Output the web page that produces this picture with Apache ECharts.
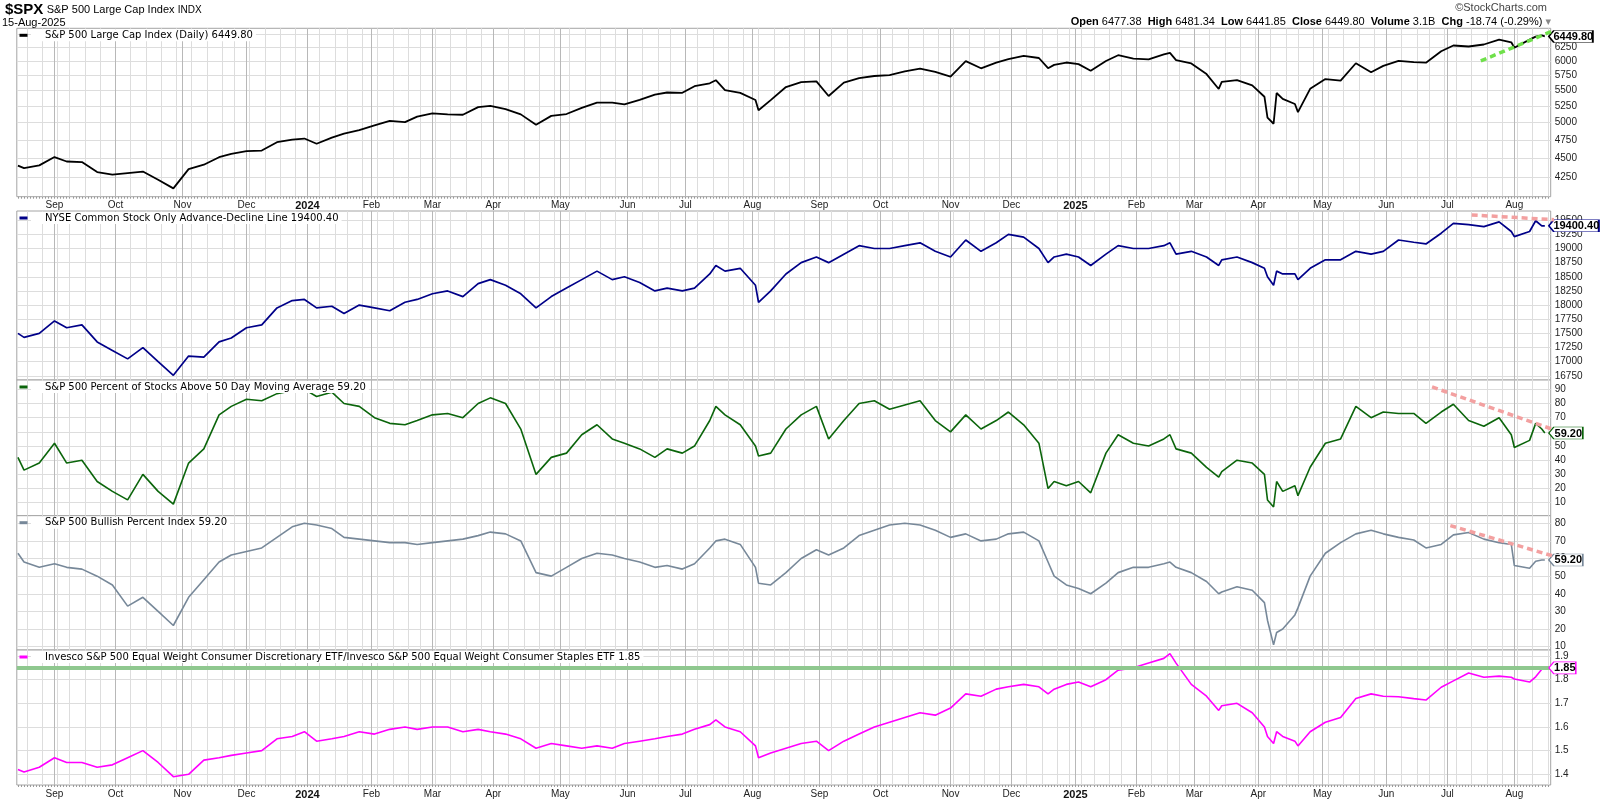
<!DOCTYPE html>
<html><head><meta charset="utf-8">
<script src="https://cdn.jsdelivr.net/npm/echarts@6/dist/echarts.min.js"></script>
<style>html,body{margin:0;padding:0;background:#fff}#c{width:1600px;height:800px}</style>
</head><body><div id="c"></div>
<script>
// ---------------- DATA ----------------
const sampleDates = [
 '2023-08-16','2023-08-18','2023-08-25',
 '2023-09-01','2023-09-08','2023-09-15','2023-09-22','2023-09-29',
 '2023-10-06','2023-10-13','2023-10-20','2023-10-27',
 '2023-11-03','2023-11-10','2023-11-17','2023-11-24',
 '2023-12-01','2023-12-08','2023-12-15','2023-12-22','2023-12-29',
 '2024-01-05','2024-01-12','2024-01-19','2024-01-26',
 '2024-02-02','2024-02-09','2024-02-16','2024-02-23',
 '2024-03-01','2024-03-08','2024-03-15','2024-03-22','2024-03-28',
 '2024-04-05','2024-04-12','2024-04-19','2024-04-26',
 '2024-05-03','2024-05-10','2024-05-17','2024-05-24','2024-05-31',
 '2024-06-07','2024-06-14','2024-06-21','2024-06-28',
 '2024-07-05','2024-07-12','2024-07-16','2024-07-19','2024-07-26',
 '2024-08-02','2024-08-05','2024-08-09','2024-08-16','2024-08-23','2024-08-30',
 '2024-09-06','2024-09-13','2024-09-20','2024-09-27',
 '2024-10-04','2024-10-11','2024-10-18','2024-10-25',
 '2024-11-01','2024-11-08','2024-11-15','2024-11-22','2024-11-29',
 '2024-12-06','2024-12-13','2024-12-18','2024-12-20','2024-12-27',
 '2025-01-03','2025-01-10','2025-01-17','2025-01-24','2025-01-31',
 '2025-02-07','2025-02-14','2025-02-19','2025-02-21','2025-02-28',
 '2025-03-07','2025-03-13','2025-03-14','2025-03-21','2025-03-28',
 '2025-04-03','2025-04-04','2025-04-08','2025-04-09','2025-04-11','2025-04-17','2025-04-21','2025-04-25',
 '2025-05-02','2025-05-09','2025-05-16','2025-05-23','2025-05-30',
 '2025-06-06','2025-06-13','2025-06-20','2025-06-27',
 '2025-07-03','2025-07-11','2025-07-18','2025-07-25','2025-07-31',
 '2025-08-01','2025-08-08','2025-08-12','2025-08-14','2025-08-15'
];
const spxClose = [
 4404,4370,4406,
 4516,4457,4450,4320,4288,
 4308,4327,4224,4117,
 4358,4415,4514,4559,
 4595,4604,4719,4755,4770,
 4697,4784,4840,4891,
 4959,5027,5006,5089,
 5137,5124,5117,5234,5254,
 5204,5123,4967,5100,
 5128,5223,5303,5305,5278,
 5347,5432,5465,5460,
 5567,5615,5667,5505,5459,
 5346,5186,5344,5554,5634,5648,
 5408,5626,5703,5738,
 5751,5815,5864,5808,
 5729,5995,5870,5969,6032,
 6090,6051,5872,5930,5971,
 5942,5827,5997,6101,6041,
 6026,6115,6144,6013,5955,
 5770,5522,5639,5668,5581,
 5397,5074,4983,5457,5363,5283,5158,5525,
 5686,5660,5958,5803,5912,
 6000,5977,5968,6173,
 6279,6260,6297,6389,6339,
 6238,6389,6446,6469,6449.80
];
const nyseAdLine = [
 17500,17430,17500,
 17720,17600,17650,17350,17200,
 17050,17250,17000,16760,
 17100,17080,17350,17420,
 17600,17650,17950,18080,18100,
 17950,17980,17850,18000,
 17950,17900,18050,18100,
 18200,18250,18150,18380,18450,
 18350,18200,17950,18150,
 18300,18450,18600,18450,18500,
 18400,18250,18300,18250,
 18300,18550,18700,18600,18650,
 18350,18050,18250,18550,18750,18850,
 18750,18900,19050,19000,
 19000,19050,19100,18950,
 18850,19150,18950,19100,19250,
 19200,19000,18750,18850,18900,
 18850,18700,18900,19050,19000,
 19000,19050,19100,18900,18950,
 18850,18700,18800,18850,18750,
 18650,18500,18350,18600,18550,18550,18450,18650,
 18800,18800,18950,18900,18950,
 19150,19110,19080,19270,
 19445,19420,19385,19470,19300,
 19210,19300,19490,19400,19400.40
];
const pctAbove50dma = [
 42,33,38,
 52,38,40,25,18,
 12,30,18,9,
 38,48,72,78,
 83,82,87,89,90,
 85,88,80,78,
 70,66,65,68,
 72,73,70,80,84,
 80,62,30,42,
 45,58,65,55,52,
 48,42,48,45,
 50,68,78,72,65,
 50,43,45,62,72,78,
 55,68,80,82,
 76,79,82,68,
 60,72,62,68,74,
 65,52,20,25,22,
 25,17,45,58,52,
 50,55,58,48,45,
 35,28,32,40,38,
 30,12,7,25,18,22,15,35,
 52,55,78,70,74,
 73,73,66,74,
 79.5,68,64,70,58,
 49,54,66,62,59.2
];
const bullishPctIndex = [
 63,58,55,
 57,55,54,50,45,
 33,38,30,22,
 38,48,58,62,
 64,66,72,78,80,
 79,77,72,71,
 70,69,69,68,
 69,70,71,73,75,
 74,70,52,50,
 55,60,63,62,60,
 58,55,56,54,
 57,66,70,71,68,
 55,46,45,52,60,65,
 62,66,73,76,
 79,80,79,76,
 72,74,70,71,74,
 75,70,58,50,45,
 43,40,46,52,55,
 55,57,58,55,52,
 47,40,41,44,42,
 35,25,11,18,20,28,32,50,
 63,69,74,76,74,
 72,70.5,66,68,
 73.4,74.8,71,69,68,
 56,54.5,58.5,59.2,59.2
];
const rspdRspsRatio = [
 1.42,1.41,1.43,
 1.47,1.45,1.45,1.43,1.44,
 1.47,1.50,1.45,1.39,
 1.40,1.46,1.47,1.48,
 1.49,1.50,1.55,1.56,1.58,
 1.54,1.55,1.56,1.58,
 1.57,1.59,1.60,1.59,
 1.60,1.60,1.58,1.59,1.58,
 1.57,1.55,1.51,1.53,
 1.52,1.51,1.52,1.51,1.53,
 1.54,1.55,1.56,1.57,
 1.59,1.61,1.63,1.60,1.58,
 1.52,1.47,1.49,1.51,1.53,1.54,
 1.50,1.54,1.57,1.60,
 1.62,1.64,1.66,1.65,
 1.68,1.74,1.73,1.76,1.77,
 1.78,1.77,1.74,1.76,1.78,
 1.79,1.77,1.80,1.84,1.85,
 1.87,1.89,1.91,1.87,1.78,
 1.73,1.67,1.69,1.70,1.66,
 1.60,1.56,1.53,1.58,1.56,1.54,1.52,1.58,
 1.62,1.64,1.72,1.74,1.73,
 1.728,1.72,1.714,1.768,
 1.795,1.828,1.81,1.815,1.81,
 1.803,1.79,1.812,1.844,1.85
];
// annotation lines drawn on the chart
const spxTrend = [['2025-07-17', 6000], ['2025-08-20', 6565]];
const adTrend = [['2025-07-14', 19592], ['2025-08-21', 19505]];
const pctTrend = [['2025-06-24', 91.7], ['2025-08-19', 62.2]];
const bpiTrend = [['2025-07-02', 78.7], ['2025-09-02', 57.2]];
const ratioLevel = 1.85;
// axis ticks
const spxTicks = [4250,4500,4750,5000,5250,5500,5750,6000,6250,6500];
const spxTickLabels = [4250,4500,4750,5000,5250,5500,5750,6000,6250];
const adTicks = [16750,17000,17250,17500,17750,18000,18250,18500,18750,19000,19250,19500];
const pctTicks = [10,20,30,40,50,60,70,80,90];
const bpiTicks = [10,20,30,40,50,60,70,80];
const ratioTicks = [1.4,1.5,1.6,1.7,1.8,1.9];
const monthNames = ['Jan','Feb','Mar','Apr','May','Jun','Jul','Aug','Sep','Oct','Nov','Dec'];
const holidays = ['2023-09-04','2023-11-23','2023-12-25','2024-01-01','2024-01-15','2024-02-19','2024-03-29',
 '2024-05-27','2024-06-19','2024-07-04','2024-09-02','2024-11-28','2024-12-25','2025-01-01','2025-01-09',
 '2025-01-20','2025-02-17','2025-04-18','2025-05-26','2025-06-19','2025-07-04','2025-09-01'];

// ---------------- TRADING-DAY AXIS ----------------
const hol = new Set(holidays);
const tradingDays = [];
for (let t = Date.UTC(2023,7,16); t <= Date.UTC(2025,8,5); t += 86400000) {
  const d = new Date(t), wd = d.getUTCDay();
  if (wd === 0 || wd === 6) continue;
  const s = d.toISOString().slice(0,10);
  if (hol.has(s)) continue;
  tradingDays.push(s);
}
const dayIndex = {};
tradingDays.forEach((s,i) => { dayIndex[s] = i; });
const X_MIN = -0.37, X_MAX = 502.93;
const allIdx = [], monthStarts = [], weekStarts = [];
for (let i = 0; i < tradingDays.length && i <= X_MAX; i++) {
  allIdx.push(i);
  if (i === 0) continue;
  if (tradingDays[i].slice(0,7) !== tradingDays[i-1].slice(0,7)) monthStarts.push(i);
  const a = new Date(tradingDays[i-1] + 'T00:00:00Z'), b = new Date(tradingDays[i] + 'T00:00:00Z');
  if (b.getUTCDay() <= a.getUTCDay() || (b - a) > 6*86400000) weekStarts.push(i);
}

// ---------------- LAYOUT ----------------
const L = 16.8, R = 1600 - 1550.7;
const panels = [
  {top: 28.3, h: 168.4, min: Math.log(4017), max: Math.log(6606)},
  {top: 211, h: 169, min: 16677, max: 19662},
  {top: 380, h: 135.7, min: 0.85, max: 96.6},
  {top: 515.7, h: 134.3, min: 8.1, max: 84.3},
  {top: 650, h: 135, min: 1.3548, max: 1.9254}
];
const FONT = 'Liberation Sans';
const grids = panels.map(p => ({left: L, right: R, top: p.top, height: p.h, show: true,
  backgroundColor: '#fff', borderColor: '#a4a4a4', borderWidth: 1, containLabel: false}));

const xAxes = [], yAxes = [], weekAxisIdx = [];
function monthFmt(v) {
  const s = tradingDays[Math.round(v)];
  const m = +s.slice(5,7);
  return m === 1 ? '{y|' + s.slice(0,4) + '}' : monthNames[m-1];
}
panels.forEach((p, g) => {
  const base = {type: 'value', gridIndex: g, position: 'bottom', offset: 0, min: X_MIN, max: X_MAX, axisLine: {show: false}};
  weekAxisIdx.push(xAxes.length);
  xAxes.push(Object.assign({}, base, {
    axisTick: {show: false, customValues: weekStarts}, axisLabel: {show: false},
    splitLine: {show: true, lineStyle: {color: '#dddddd', width: 1}}
  }));
  const showLab = (g === 0 || g === 4);
  xAxes.push(Object.assign({}, base, {
    axisTick: {show: false, customValues: monthStarts},
    axisLabel: showLab ? {show: true, customValues: monthStarts, formatter: monthFmt, margin: 4,
      fontSize: 10, fontFamily: FONT, color: '#222',
      rich: {y: {fontSize: 11, fontWeight: 'bold', fontFamily: FONT, color: '#111'}}} : {show: false},
    splitLine: {show: true, lineStyle: {color: '#b8b8b8', width: 1}}
  }));
  if (showLab) {
    xAxes.push(Object.assign({}, base, {
      axisTick: {show: true, customValues: allIdx, length: 2, lineStyle: {color: '#9a9a9a', width: 1}},
      axisLabel: {show: false}, splitLine: {show: false}
    }));
  }
});
const yFmt = [
  v => String(Math.round(Math.exp(v))),
  v => String(Math.round(v)),
  v => String(Math.round(v)),
  v => String(Math.round(v)),
  v => v.toFixed(1)
];
const yTicks = [spxTicks.map(Math.log), adTicks, pctTicks, bpiTicks, ratioTicks];
const yLabels = [spxTickLabels.map(Math.log), adTicks, pctTicks, bpiTicks, ratioTicks];
panels.forEach((p, g) => {
  yAxes.push({type: 'value', gridIndex: g, position: 'right', min: p.min, max: p.max,
    axisLine: {show: false},
    axisTick: {show: false, customValues: yTicks[g]},
    axisLabel: {show: true, customValues: yLabels[g], formatter: yFmt[g], margin: 4,
      fontSize: 10, fontFamily: FONT, color: '#222'},
    splitLine: {show: true, lineStyle: {color: '#dddddd', width: 1}}
  });
});

// ---------------- SERIES ----------------
function endBox(xv, yv, text, color, w) {
  return {
    silent: true, animation: false,
    symbol: 'path://M0,6L5,0L' + w + ',0L' + w + ',12L5,12Z',
    symbolSize: [w, 12], symbolKeepAspect: false, symbolOffset: [w/2 + 4, 0],
    itemStyle: {color: '#fff', borderColor: color, borderWidth: 1},
    label: {show: true, position: 'inside', formatter: text, offset: [2.5, 0.5],
      color: '#000', fontWeight: 'bold', fontSize: 11, fontFamily: FONT},
    data: [{coord: [xv, yv], value: text}]
  };
}
const lastIdx = dayIndex[sampleDates[sampleDates.length-1]];
const defs = [
  {vals: spxClose, tf: Math.log, color: '#000000', width: 1.8, box: '6449.80', bw: 44},
  {vals: nyseAdLine, tf: v => v, color: '#000088', width: 1.7, box: '19400.40', bw: 50},
  {vals: pctAbove50dma, tf: v => v, color: '#0b650b', width: 1.6, box: '59.20', bw: 34},
  {vals: bullishPctIndex, tf: v => v, color: '#778899', width: 1.6, box: '59.20', bw: 34},
  {vals: rspdRspsRatio, tf: v => v, color: '#ff00ff', width: 1.6, box: '1.85', bw: 27}
];
const series = [];
defs.forEach((d, g) => {
  const s = {
    type: 'line', xAxisIndex: weekAxisIdx[g], yAxisIndex: g, showSymbol: false, symbol: 'none',
    clip: false, silent: true, z: 3,
    data: sampleDates.map((dt, i) => [dayIndex[dt], d.tf(d.vals[i])]),
    lineStyle: {color: d.color, width: d.width},
    markPoint: endBox(lastIdx, d.tf(d.vals[d.vals.length-1]), d.box, d.color, d.bw)
  };
  if (g === 4) {
    s.markLine = {silent: true, symbol: ['none','none'], label: {show: false}, animation: false,
      lineStyle: {color: '#8fc88f', width: 4, type: 'solid'}, data: [{yAxis: ratioLevel}]};
  }
  series.push(s);
});
function trendSeries(g, pts, tf, color) {
  return {type: 'line', xAxisIndex: weekAxisIdx[g], yAxisIndex: g, showSymbol: false, symbol: 'none',
    clip: false, silent: true, z: 6,
    data: pts.map(([dt, v]) => [dayIndex[dt], tf(v)]),
    lineStyle: {color: color, width: 3.5, type: [6, 4], cap: 'butt'}};
}
series.push(trendSeries(0, spxTrend, Math.log, '#6fe04a'));
series.push(trendSeries(1, adTrend, v => v, '#f3a0a0'));
series.push(trendSeries(2, pctTrend, v => v, '#f3a0a0'));
series.push(trendSeries(3, bpiTrend, v => v, '#f3a0a0'));

// ---------------- TEXT ----------------
const titles = [
  'S&P 500 Large Cap Index (Daily) 6449.80',
  'NYSE Common Stock Only Advance-Decline Line 19400.40',
  'S&P 500 Percent of Stocks Above 50 Day Moving Average 59.20',
  'S&P 500 Bullish Percent Index 59.20',
  'Invesco S&P 500 Equal Weight Consumer Discretionary ETF/Invesco S&P 500 Equal Weight Consumer Staples ETF 1.85'
];
const graphic = [
  {type: 'text', x: 5, y: 10, z: 100, style: {
    text: '{a|$SPX} {b|S&P 500 Large Cap Index} {c|INDX}', verticalAlign: 'middle', align: 'left',
    rich: {a: {fontSize: 15, fontWeight: 'bold', fontFamily: FONT, fill: '#000'},
           b: {fontSize: 11, fontFamily: FONT, fill: '#000'},
           c: {fontSize: 10, fontFamily: FONT, fill: '#000'}}}},
  {type: 'text', x: 2, y: 23, z: 100, style: {text: '15-Aug-2025', fontSize: 11, fontFamily: FONT,
    fill: '#000', verticalAlign: 'middle', align: 'left'}},
  {type: 'text', x: 1547, y: 8, z: 100, style: {text: '\u00A9StockCharts.com', fontSize: 11, fontFamily: FONT,
    fill: '#444', verticalAlign: 'middle', align: 'right'}},
  {type: 'text', x: 1551, y: 22, z: 100, style: {
    text: '{b|Open} 6477.38  {b|High} 6481.34  {b|Low} 6441.85  {b|Close} 6449.80  {b|Volume} 3.1B  {b|Chg} -18.74 (-0.29%) {t|\u25BE}',
    fontSize: 11, fontFamily: FONT, fill: '#000', verticalAlign: 'middle', align: 'right',
    rich: {b: {fontSize: 11, fontWeight: 'bold', fontFamily: FONT, fill: '#000'},
           t: {fontSize: 11, fontFamily: 'DejaVu Sans', fill: '#888'}}}}
];
panels.forEach((p, g) => {
  const cy = p.top + 7;
  graphic.push({type: 'text', x: 31, y: cy, z: 100, style: {text: titles[g], fontSize: 10,
    fontFamily: 'DejaVu Sans', fill: '#000', verticalAlign: 'middle', align: 'left',
    backgroundColor: '#fff', padding: [1, 3, 1, 14]}});
  graphic.push({type: 'rect', z: 101, shape: {x: 19.5, y: cy - 1.5, width: 8, height: 3},
    style: {fill: defs[g].color}});
});

const chart = echarts.init(document.getElementById('c'));
chart.setOption({
  animation: false,
  backgroundColor: '#fff',
  grid: grids, xAxis: xAxes, yAxis: yAxes, series: series, graphic: graphic
});
</script>
</body></html>
